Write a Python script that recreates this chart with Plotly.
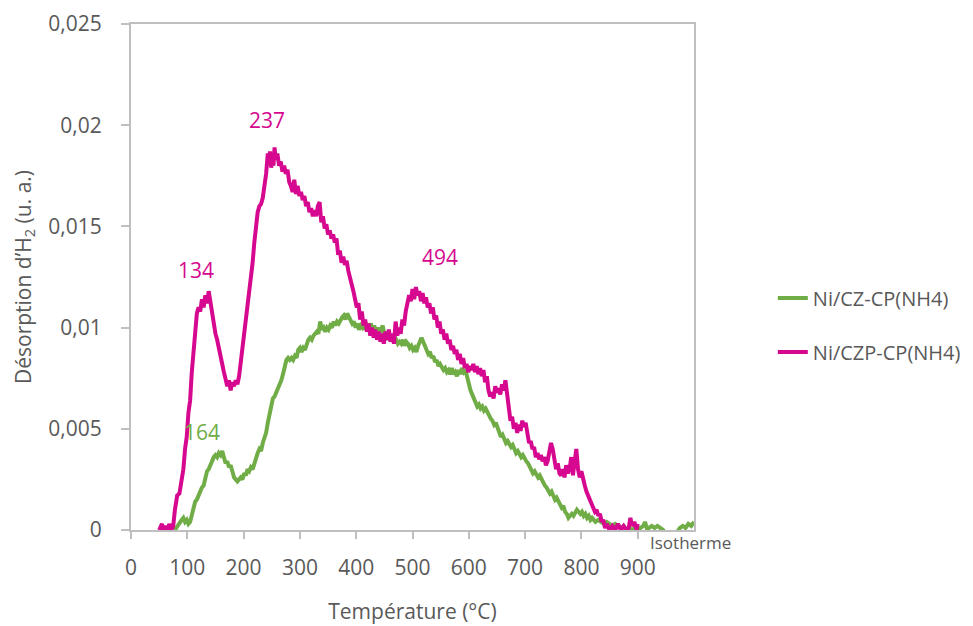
import plotly.graph_objects as go

# ---------------- data ----------------
temp_czp = [50, 55, 58, 62, 65, 68, 72, 75, 78, 82, 86, 90, 93, 96, 99, 102, 105, 108, 111, 114,
            117, 120, 123, 126, 129, 132, 135, 138, 141, 144, 147, 150, 153, 156, 159, 162, 165, 168,
            171, 174, 177, 180, 183, 186, 189, 192, 195, 198, 201, 204, 207, 210, 213, 216, 219, 222,
            225, 228, 231, 234, 237, 240, 243, 245, 247, 249, 251, 253, 255, 257, 260, 263, 266, 269,
            272, 275, 278, 281, 284, 287, 290, 293, 296, 299, 302, 305, 308, 311, 314, 317, 320, 323,
            326, 329, 332, 335, 338, 341, 344, 347, 350, 353, 356, 359, 362, 365, 368, 371, 374, 377,
            380, 383, 386, 389, 392, 395, 398, 401, 404, 407, 410, 413, 416, 419, 422, 425, 428, 431,
            434, 437, 440, 443, 446, 449, 452, 455, 458, 461, 464, 467, 470, 473, 476, 479, 482, 485,
            488, 491, 494, 497, 500, 503, 506, 509, 512, 515, 518, 521, 524, 527, 530, 533, 536, 539,
            542, 545, 548, 551, 554, 557, 560, 563, 566, 569, 572, 575, 578, 581, 584, 587, 590, 593,
            596, 599, 602, 605, 608, 611, 614, 617, 620, 623, 626, 629, 632, 635, 638, 641, 644, 647,
            650, 653, 656, 659, 662, 665, 668, 671, 674, 677, 680, 683, 686, 689, 692, 695, 698, 701,
            704, 707, 710, 713, 716, 719, 722, 725, 728, 731, 734, 737, 740, 743, 746, 749, 752, 755,
            758, 761, 764, 767, 770, 773, 776, 779, 782, 785, 788, 791, 794, 797, 800, 803, 806, 809,
            812, 815, 818, 821, 824, 827, 830, 833, 836, 839, 842, 845, 850, 855, 860, 865, 870, 875,
            880, 884, 887, 890, 894, 898, 900]
h2_czp = [0.0000, 0.0003, 0.0000, 0.0002, 0.0000, 0.0003, 0.0000, 0.0002, 0.0010, 0.0017, 0.0018,
          0.0025, 0.0030, 0.0040, 0.0046, 0.0058, 0.0064, 0.0078, 0.0088, 0.0098, 0.0107, 0.0110,
          0.0108, 0.0114, 0.0110, 0.0116, 0.0112, 0.0118, 0.0113, 0.0106, 0.0103, 0.0097, 0.0094,
          0.0089, 0.0084, 0.0082, 0.0078, 0.0075, 0.0071, 0.0074, 0.0069, 0.0073, 0.0071, 0.0074,
          0.0072, 0.0076, 0.0083, 0.0090, 0.0096, 0.0100, 0.0110, 0.0118, 0.0125, 0.0132, 0.0142,
          0.0150, 0.0157, 0.0160, 0.0161, 0.0164, 0.0170, 0.0176, 0.0186, 0.0182, 0.0187, 0.0179,
          0.0185, 0.0180, 0.0189, 0.0183, 0.0186, 0.0180, 0.0182, 0.0177, 0.0180, 0.0176, 0.0178,
          0.0172, 0.0170, 0.0167, 0.0173, 0.0166, 0.0170, 0.0165, 0.0167, 0.0163, 0.0165, 0.0160,
          0.0162, 0.0157, 0.0159, 0.0155, 0.0158, 0.0155, 0.0160, 0.0162, 0.0152, 0.0155, 0.0149,
          0.0151, 0.0146, 0.0148, 0.0144, 0.0146, 0.0142, 0.0144, 0.0136, 0.0138, 0.0132, 0.0135,
          0.0131, 0.0133, 0.0128, 0.0125, 0.0121, 0.0118, 0.0114, 0.0110, 0.0112, 0.0104, 0.0108,
          0.0101, 0.0104, 0.0098, 0.0102, 0.0096, 0.0100, 0.0095, 0.0099, 0.0094, 0.0098, 0.0093,
          0.0097, 0.0092, 0.0098, 0.0094, 0.0099, 0.0093, 0.0097, 0.0092, 0.0103, 0.0096, 0.0100,
          0.0097, 0.0104, 0.0101, 0.0108, 0.0112, 0.0116, 0.0113, 0.0119, 0.0114, 0.0120, 0.0116,
          0.0118, 0.0113, 0.0117, 0.0112, 0.0115, 0.0110, 0.0112, 0.0107, 0.0110, 0.0104, 0.0106,
          0.0100, 0.0103, 0.0097, 0.0099, 0.0094, 0.0097, 0.0092, 0.0094, 0.0089, 0.0091, 0.0087,
          0.0089, 0.0084, 0.0087, 0.0082, 0.0085, 0.0080, 0.0082, 0.0078, 0.0081, 0.0079, 0.0082,
          0.0078, 0.0081, 0.0077, 0.0080, 0.0076, 0.0079, 0.0073, 0.0076, 0.0069, 0.0066, 0.0068,
          0.0065, 0.0071, 0.0068, 0.0070, 0.0067, 0.0072, 0.0069, 0.0074, 0.0066, 0.0060, 0.0054,
          0.0056, 0.0050, 0.0053, 0.0048, 0.0052, 0.0049, 0.0054, 0.0051, 0.0053, 0.0047, 0.0043,
          0.0044, 0.0040, 0.0041, 0.0036, 0.0038, 0.0035, 0.0037, 0.0034, 0.0036, 0.0032, 0.0034,
          0.0038, 0.0043, 0.0040, 0.0034, 0.0030, 0.0033, 0.0028, 0.0027, 0.0030, 0.0026, 0.0032,
          0.0028, 0.0030, 0.0036, 0.0027, 0.0034, 0.0040, 0.0030, 0.0026, 0.0029, 0.0024, 0.0022,
          0.0019, 0.0017, 0.0014, 0.0012, 0.0011, 0.0009, 0.0010, 0.0007, 0.0008, 0.0004, 0.0005,
          0.0001, 0.0003, 0.0000, 0.0002, 0.0000, 0.0003, 0.0000, 0.0002, 0.0000, 0.0001, 0.0006,
          0.0002, 0.0004, 0.0000, 0.0003, 0.0000]

temp_cz = [78, 82, 86, 90, 93, 96, 99, 102, 105, 108, 111, 114, 117, 120, 123, 126, 129, 132, 135,
           138, 141, 144, 147, 150, 153, 156, 159, 162, 165, 168, 171, 174, 177, 180, 183, 186, 189,
           192, 195, 198, 201, 204, 207, 210, 213, 216, 219, 222, 225, 228, 231, 234, 237, 240, 243,
           246, 249, 252, 255, 258, 261, 264, 267, 270, 273, 276, 279, 282, 285, 288, 291, 294, 297,
           300, 303, 306, 309, 312, 315, 318, 321, 324, 327, 330, 333, 336, 339, 342, 345, 348, 351,
           354, 357, 360, 363, 366, 369, 372, 375, 378, 381, 384, 387, 390, 393, 396, 399, 402, 405,
           408, 411, 414, 417, 420, 423, 426, 429, 432, 435, 438, 441, 444, 447, 450, 453, 456, 459,
           462, 465, 468, 471, 474, 477, 480, 483, 486, 489, 492, 495, 498, 501, 504, 507, 510, 513,
           516, 519, 522, 525, 528, 531, 534, 537, 540, 543, 546, 549, 552, 555, 558, 561, 564, 567,
           570, 573, 576, 579, 582, 585, 588, 591, 594, 597, 600, 603, 606, 609, 612, 615, 618, 621,
           624, 627, 630, 633, 636, 639, 642, 645, 648, 651, 654, 657, 660, 663, 666, 669, 672, 675,
           678, 681, 684, 687, 690, 693, 696, 699, 702, 705, 708, 711, 714, 717, 720, 723, 726, 729,
           732, 735, 738, 741, 744, 747, 750, 753, 756, 759, 762, 765, 768, 771, 774, 777, 780, 783,
           786, 789, 792, 795, 798, 801, 804, 807, 810, 813, 816, 819, 822, 825, 830, 835, 840, 845,
           850, 855, 860, 865, 870, 875, 880, 885, 890, 895, 900, 905, 910, 913, 916, 920, 925, 930,
           935, 940, 945, 950, 955, 960, 965, 970, 975, 980, 985, 990, 995, 1000]
h2_cz = [0.0000, 0.0002, 0.0004, 0.0005, 0.0006, 0.0004, 0.0005, 0.0003, 0.0004, 0.0008, 0.0012,
         0.0014, 0.0015, 0.0017, 0.0020, 0.0021, 0.0022, 0.0026, 0.0029, 0.0030, 0.0032, 0.0035,
         0.0036, 0.0037, 0.0036, 0.0038, 0.0037, 0.0039, 0.0036, 0.0033, 0.0034, 0.0031, 0.0032,
         0.0029, 0.0026, 0.0025, 0.0024, 0.0025, 0.0026, 0.0025, 0.0028, 0.0027, 0.0030, 0.0029,
         0.0031, 0.0030, 0.0033, 0.0035, 0.0038, 0.0040, 0.0039, 0.0043, 0.0046, 0.0048, 0.0053,
         0.0057, 0.0061, 0.0065, 0.0066, 0.0068, 0.0069, 0.0072, 0.0074, 0.0077, 0.0081, 0.0084,
         0.0085, 0.0084, 0.0085, 0.0084, 0.0086, 0.0085, 0.0089, 0.0090, 0.0088, 0.0090, 0.0089,
         0.0092, 0.0094, 0.0095, 0.0094, 0.0096, 0.0097, 0.0098, 0.0097, 0.0103, 0.0099, 0.0100,
         0.0098, 0.0100, 0.0099, 0.0101, 0.0100, 0.0103, 0.0101, 0.0103, 0.0102, 0.0104, 0.0105,
         0.0106, 0.0104, 0.0107, 0.0105, 0.0104, 0.0102, 0.0103, 0.0100, 0.0102, 0.0099, 0.0101,
         0.0100, 0.0102, 0.0099, 0.0101, 0.0100, 0.0102, 0.0099, 0.0101, 0.0098, 0.0100, 0.0097,
         0.0099, 0.0101, 0.0097, 0.0096, 0.0094, 0.0096, 0.0095, 0.0096, 0.0093, 0.0094, 0.0092,
         0.0093, 0.0092, 0.0094, 0.0091, 0.0093, 0.0092, 0.0090, 0.0091, 0.0089, 0.0090, 0.0088,
         0.0091, 0.0093, 0.0095, 0.0093, 0.0091, 0.0089, 0.0087, 0.0088, 0.0085, 0.0086, 0.0083,
         0.0084, 0.0081, 0.0082, 0.0080, 0.0079, 0.0080, 0.0078, 0.0079, 0.0077, 0.0080, 0.0077,
         0.0078, 0.0076, 0.0079, 0.0077, 0.0080, 0.0078, 0.0079, 0.0075, 0.0071, 0.0069, 0.0067,
         0.0065, 0.0063, 0.0061, 0.0062, 0.0060, 0.0061, 0.0059, 0.0060, 0.0058, 0.0057, 0.0055,
         0.0054, 0.0052, 0.0053, 0.0051, 0.0048, 0.0046, 0.0047, 0.0045, 0.0043, 0.0044, 0.0042,
         0.0041, 0.0042, 0.0040, 0.0038, 0.0039, 0.0037, 0.0036, 0.0037, 0.0035, 0.0034, 0.0033,
         0.0031, 0.0030, 0.0028, 0.0029, 0.0027, 0.0026, 0.0027, 0.0025, 0.0023, 0.0022, 0.0021,
         0.0019, 0.0018, 0.0019, 0.0017, 0.0015, 0.0016, 0.0014, 0.0013, 0.0011, 0.0012, 0.0009,
         0.0008, 0.0006, 0.0007, 0.0008, 0.0007, 0.0009, 0.0010, 0.0009, 0.0008, 0.0009, 0.0007,
         0.0008, 0.0006, 0.0007, 0.0005, 0.0006, 0.0005, 0.0004, 0.0005, 0.0004, 0.0003, 0.0004,
         0.0003, 0.0002, 0.0003, 0.0002, 0.0001, 0.0002, 0.0000, 0.0001, 0.0000, 0.0001, 0.0000,
         0.0001, 0.0002, 0.0004, 0.0001, 0.0001, 0.0002, 0.0001, 0.0002, 0.0001, 0.0000, -0.0002,
         -0.0003, -0.0002, -0.0003, -0.0001, 0.0001, 0.0002, 0.0001, 0.0003, 0.0002, 0.0004]

series_names = ["Ni/CZ-CP(NH4)", "Ni/CZP-CP(NH4)"]
series_colors = ["#70AD47", "#D6088F"]

x_tick_vals = [0, 100, 200, 300, 400, 500, 600, 700, 800, 900]
x_tick_text = ["0", "100", "200", "300", "400", "500", "600", "700", "800", "900"]
y_tick_vals = [0, 0.005, 0.01, 0.015, 0.02, 0.025]
y_tick_text = ["0", "0,005", "0,01", "0,015", "0,02", "0,025"]

peak_labels = ["134", "237", "494", "164"]
peak_x = [115, 241, 549, 126]
peak_y = [0.01285, 0.02026, 0.01349, 0.00484]
peak_series = [1, 1, 1, 0]

# ---------------- figure ----------------
GREY = "#595959"
AXIS = "#BFBFBF"
FONT = "Open Sans"
FS = 21

fig = go.Figure()
for temps, vals, name, col in [(temp_cz, h2_cz, series_names[0], series_colors[0]),
                               (temp_czp, h2_czp, series_names[1], series_colors[1])]:
    fig.add_trace(go.Scatter(x=temps, y=vals, mode="lines", name=name, legendgroup=name,
                             line=dict(color=col, width=4)))

for lab, px, py, s in zip(peak_labels, peak_x, peak_y, peak_series):
    fig.add_annotation(x=px, y=py, text=lab, showarrow=False,
                       font=dict(family=FONT, size=FS, color=series_colors[s]))

fig.add_annotation(x=1000, y=0, xref="x", yref="y", text="Isotherme", showarrow=False,
                   yshift=-12, xshift=-4, font=dict(family=FONT, size=17, color=GREY))

# page has an 8px body margin; the figure is made a bit larger than the window so
# that the legend never forces the margins to grow (overflow is outside the view)
fig.update_layout(
    width=1000, height=640,
    margin=dict(l=123, r=314, t=16, b=118),
    paper_bgcolor="white", plot_bgcolor="white",
    font=dict(family=FONT, size=FS, color=GREY),
    showlegend=True,
    legend=dict(x=1.14, y=0.405, xanchor="left", yanchor="middle",
                font=dict(family=FONT, size=20, color=GREY),
                tracegroupgap=25, traceorder="grouped", bgcolor="rgba(0,0,0,0)"),
    xaxis=dict(range=[0, 1000], tickmode="array", tickvals=x_tick_vals, ticktext=x_tick_text,
               showline=True, linecolor=AXIS, linewidth=2, mirror=True,
               ticks="outside", ticklen=7, tickwidth=2, tickcolor=AXIS,
               showgrid=False, zeroline=False, ticklabelstandoff=11, automargin=False,
               tickfont=dict(family=FONT, size=FS, color=GREY),
               title=dict(text="Température (°C)", standoff=24,
                          font=dict(family=FONT, size=FS, color=GREY))),
    yaxis=dict(range=[0, 0.025], tickmode="array", tickvals=y_tick_vals, ticktext=y_tick_text,
               showline=True, linecolor=AXIS, linewidth=2, mirror=True,
               ticks="outside", ticklen=8, tickwidth=2, tickcolor=AXIS,
               showgrid=False, zeroline=False, ticklabelstandoff=15, automargin=False,
               tickfont=dict(family=FONT, size=FS, color=GREY),
               title=dict(text="Désorption d’H<sub>2</sub> (u. a.)", standoff=11,
                          font=dict(family=FONT, size=FS, color=GREY))),
)

fig.write_html("out.html")
